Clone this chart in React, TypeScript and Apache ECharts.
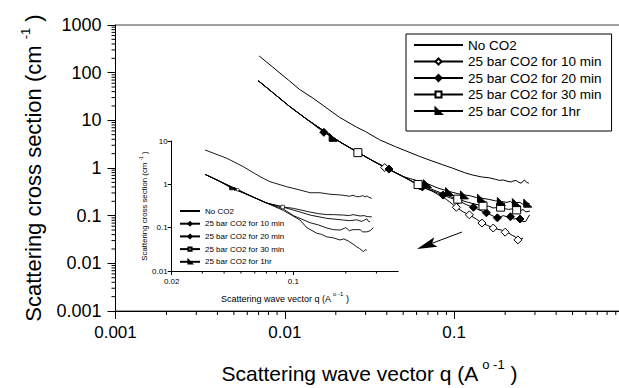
import React, { useEffect, useRef } from 'react';
import * as echarts from 'echarts';

type Pt = [number, number];

const FONT = '"Liberation Sans", Arial, Helvetica, sans-serif';

const seriesNames = [
  'No CO2',
  '25 bar CO2 for 10 min',
  '25 bar CO2 for 20 min',
  '25 bar CO2 for 30 min',
  '25 bar CO2 for 1hr',
];

// axis ranges (log axes)
const mainXRange: Pt = [0.001, 1];
const mainYRange: Pt = [0.001, 1000];
const insetXRange: Pt = [0.02, 0.4];
const insetYRange: Pt = [0.01, 10];

// ---------------- main plot data ----------------
const noCO2Main: Pt[] = [
  [0.00705, 224], [0.0085, 130], [0.0105, 70], [0.01226, 44], [0.0145, 30], [0.017, 20],
  [0.0211, 11.5], [0.0265, 7.2], [0.03, 5.8], [0.0363, 3.9], [0.045, 2.8], [0.0625, 1.75],
  [0.075, 1.38], [0.085, 1.18], [0.098, 0.99], [0.115, 0.8], [0.129, 0.71], [0.145, 0.65],
  [0.162, 0.62], [0.175, 0.58], [0.185, 0.55], [0.195, 0.56], [0.205, 0.53], [0.217, 0.51],
  [0.225, 0.54], [0.233, 0.545], [0.241, 0.5], [0.249, 0.48], [0.255, 0.53], [0.26, 0.56],
  [0.268, 0.5], [0.276, 0.48],
];

const co2HeadMain: Pt[] = [
  [0.00696, 68], [0.0085, 38], [0.0107, 19.4], [0.0135, 10.5], [0.0215, 3.4],
  [0.033, 1.42], [0.05, 0.66],
];

const min10Main: Pt[] = [
  [0.075, 0.32], [0.09, 0.22], [0.113, 0.12], [0.135, 0.085], [0.158, 0.062], [0.18, 0.052],
  [0.19, 0.05], [0.21, 0.043], [0.222, 0.038], [0.23, 0.036], [0.248, 0.032], [0.255, 0.034],
];
const min10MainMarks: Pt[] = [
  [0.0389, 1.02], [0.0626, 0.42], [0.103, 0.15], [0.123, 0.104], [0.146, 0.07], [0.17, 0.055],
  [0.2, 0.045], [0.238, 0.031],
];

const min20Main: Pt[] = [
  [0.075, 0.33], [0.095, 0.235], [0.118, 0.17], [0.142, 0.13], [0.168, 0.1], [0.195, 0.1],
  [0.205, 0.095], [0.225, 0.085], [0.235, 0.088], [0.255, 0.075], [0.265, 0.076], [0.272, 0.09],
  [0.279, 0.104],
];
const min20MainMarks: Pt[] = [
  [0.017, 5.6], [0.0412, 0.95], [0.0649, 0.4], [0.0859, 0.27], [0.105, 0.21], [0.13, 0.15],
  [0.155, 0.115], [0.18, 0.09], [0.215, 0.095], [0.245, 0.085],
];

const min30Main: Pt[] = [
  [0.075, 0.35], [0.09, 0.27], [0.118, 0.195], [0.13, 0.178], [0.16, 0.158], [0.17, 0.145],
  [0.2, 0.14], [0.21, 0.135], [0.222, 0.14], [0.245, 0.125], [0.255, 0.135], [0.265, 0.12],
  [0.28, 0.125],
];
const min30MainMarks: Pt[] = [
  [0.027, 2.1], [0.0612, 0.45], [0.105, 0.222], [0.148, 0.16], [0.188, 0.151], [0.234, 0.132],
];

const hr1Main: Pt[] = [
  [0.08, 0.38], [0.105, 0.29], [0.125, 0.26], [0.135, 0.24], [0.16, 0.22], [0.175, 0.205],
  [0.205, 0.19], [0.215, 0.2], [0.222, 0.18], [0.245, 0.19], [0.252, 0.175], [0.279, 0.18],
];
const hr1MainMarks: Pt[] = [
  [0.0193, 4.4], [0.0695, 0.47], [0.094, 0.32], [0.115, 0.273], [0.145, 0.233], [0.19, 0.198],
  [0.233, 0.188], [0.272, 0.183],
];

// ---------------- inset data ----------------
const noCO2Inset: Pt[] = [
  [0.0311, 6.2], [0.0414, 4.0], [0.0516, 2.55], [0.0644, 1.5], [0.0734, 1.15], [0.0916, 0.88],
  [0.109, 0.74], [0.125, 0.64], [0.142, 0.64], [0.1625, 0.59], [0.185, 0.57], [0.2, 0.55],
  [0.21, 0.53], [0.22, 0.56], [0.23, 0.52], [0.24, 0.52], [0.25, 0.55], [0.258, 0.51],
  [0.264, 0.54], [0.272, 0.5], [0.282, 0.475],
];

const co2HeadInset: Pt[] = [
  [0.0311, 1.7], [0.037, 1.22], [0.058, 0.52], [0.0702, 0.37],
];

const min10Inset: Pt[] = [
  [0.0875, 0.25], [0.1092, 0.15], [0.1194, 0.1], [0.1362, 0.0745], [0.145, 0.07],
  [0.1556, 0.0615], [0.17, 0.058], [0.1854, 0.052], [0.195, 0.055], [0.207, 0.049],
  [0.22, 0.042], [0.2313, 0.036], [0.24, 0.033], [0.2523, 0.028], [0.26, 0.031], [0.264, 0.03],
];
const min10InsetMarks: Pt[] = [[0.048, 0.75]];

const min20Inset: Pt[] = [
  [0.0875, 0.27], [0.1, 0.19], [0.1248, 0.13], [0.14, 0.115], [0.1556, 0.098], [0.17, 0.09],
  [0.1854, 0.088], [0.2, 0.1], [0.21, 0.085], [0.22, 0.09], [0.2416, 0.09], [0.25, 0.08],
  [0.264, 0.08], [0.276, 0.085], [0.2883, 0.1],
];
const min20InsetMarks: Pt[] = [[0.046, 0.78]];

const min30Inset: Pt[] = [
  [0.1092, 0.23], [0.1248, 0.195], [0.1556, 0.164], [0.1937, 0.15], [0.21, 0.145],
  [0.2313, 0.152], [0.245, 0.14], [0.2523, 0.145], [0.264, 0.16], [0.27, 0.14], [0.276, 0.137],
];
const min30InsetMarks: Pt[] = [[0.0868, 0.3]];

const hr1Inset: Pt[] = [
  [0.0875, 0.3], [0.1, 0.279], [0.1248, 0.229], [0.14, 0.21], [0.1556, 0.2], [0.17, 0.2],
  [0.1937, 0.195], [0.21, 0.19], [0.22, 0.2], [0.2416, 0.186], [0.255, 0.19], [0.265, 0.18],
  [0.282, 0.178],
];
const hr1InsetMarks: Pt[] = [[0.044, 0.82]];

// minor tick multipliers for log axes
const minorMultipliers = [2, 3, 4, 5, 6, 7, 8, 9];

const TRI = 'path://M0,0 L0,10 L10,10 Z';

function buildData(line: Pt[], marks: Pt[]) {
  const items: any[] = [
    ...line.map((p) => ({ value: p, symbol: 'none' })),
    ...marks.map((p) => ({ value: p })),
  ];
  items.sort((a, b) => a.value[0] - b.value[0]);
  return items;
}

function minorTicks(range: Pt, kind: number, other: number): number[][] {
  const out: number[][] = [];
  const lo = Math.floor(Math.log10(range[0]));
  const hi = Math.ceil(Math.log10(range[1]));
  for (let d = lo; d < hi; d++) {
    for (const m of minorMultipliers) {
      const v = m * Math.pow(10, d);
      if (v > range[0] * 1.0001 && v < range[1] * 0.9999) {
        out.push(kind === 0 ? [v, other, 0] : [other, v, 1]);
      }
    }
  }
  return out;
}

const fmt = (v: number) => String(+Number(v).toPrecision(6));

export default function App() {
  const ref = useRef<HTMLDivElement>(null);

  useEffect(() => {
    if (!ref.current) return;
    const chart = echarts.init(ref.current, undefined, { renderer: 'svg' });

    const styles = [
      { symbol: 'none', fill: '#000' },
      { symbol: 'diamond', fill: '#fff' },
      { symbol: 'diamond', fill: '#000' },
      { symbol: 'rect', fill: '#fff' },
      { symbol: TRI, fill: '#000' },
    ];

    const mainData = [
      buildData(noCO2Main, []),
      buildData([...co2HeadMain, ...min10Main], min10MainMarks),
      buildData([...co2HeadMain, ...min20Main], min20MainMarks),
      buildData([...co2HeadMain, ...min30Main], min30MainMarks),
      buildData([...co2HeadMain, ...hr1Main], hr1MainMarks),
    ];
    const insetData = [
      buildData(noCO2Inset, []),
      buildData([...co2HeadInset, ...min10Inset], min10InsetMarks),
      buildData([...co2HeadInset, ...min20Inset], min20InsetMarks),
      buildData([...co2HeadInset, ...min30Inset], min30InsetMarks),
      buildData([...co2HeadInset, ...hr1Inset], hr1InsetMarks),
    ];

    const lineSeries = (idx: number, data: any[], grid: number, size: number, width: number) => ({
      type: 'line',
      name: seriesNames[idx],
      xAxisIndex: grid,
      yAxisIndex: grid,
      data,
      symbol: styles[idx].symbol,
      symbolSize: size,
      showSymbol: true,
      showAllSymbol: true,
      silent: true,
      lineStyle: { color: '#000', width },
      itemStyle: {
        color: styles[idx].fill,
        borderColor: '#000',
        borderWidth: grid === 0 ? 1 : 0.7,
        opacity: idx === 0 ? 0 : 1,
      },
      emphasis: { disabled: true },
      z: 3,
    });

    const tickRender = (len: number) => (params: any, api: any) => {
      const kind = api.value(2);
      const pt = api.coord([api.value(0), api.value(1)]);
      if (kind === 0) {
        return {
          type: 'line',
          shape: { x1: pt[0], y1: pt[1], x2: pt[0], y2: pt[1] + len },
          style: { stroke: '#000', lineWidth: 1 },
        };
      }
      return {
        type: 'line',
        shape: { x1: pt[0] - len, y1: pt[1], x2: pt[0], y2: pt[1] },
        style: { stroke: '#000', lineWidth: 1 },
      };
    };

    const axisCommon = {
      type: 'log',
      logBase: 10,
      splitLine: { show: false },
      axisLine: { show: true, onZero: false, lineStyle: { color: '#000', width: 1 } },
    };

    const option: any = {
      animation: false,
      backgroundColor: '#fff',
      textStyle: { fontFamily: FONT, fontWeight: 'normal' },
      grid: [
        {
          left: 115.5, top: 25, width: 508, height: 286,
          outerBoundsMode: 'none', containLabel: false,
          show: true, borderColor: '#444', borderWidth: 1, backgroundColor: 'transparent',
        },
        {
          left: 171.7, top: 141, width: 226.5, height: 130,
          outerBoundsMode: 'none', containLabel: false,
        },
      ],
      xAxis: [
        {
          ...axisCommon,
          gridIndex: 0,
          min: mainXRange[0],
          max: mainXRange[1],
          axisTick: { show: true, length: 8, lineStyle: { color: '#000' } },
          axisLabel: { fontSize: 17, margin: 13, color: '#000', fontFamily: FONT, fontWeight: 'normal', formatter: fmt, showMaxLabel: false },
          name: '{a|Scattering wave vector q (A}{s|o -1}{a| )}',
          nameLocation: 'middle',
          nameGap: 47,
          nameTextStyle: {
            rich: {
              a: { fontSize: 21, fontFamily: FONT, fontWeight: 'normal', color: '#000', lineHeight: 26, verticalAlign: 'bottom' },
              s: { fontSize: 13, fontFamily: FONT, fontWeight: 'normal', color: '#000', verticalAlign: 'top', padding: [0, 0, 0, 4] },
            },
          },
        },
        {
          ...axisCommon,
          gridIndex: 1,
          min: insetXRange[0],
          max: insetXRange[1],
          axisTick: { show: true, length: 4, lineStyle: { color: '#000' } },
          axisLabel: { fontSize: 8, margin: 6, color: '#000', fontFamily: FONT, fontWeight: 'normal', formatter: fmt, showMaxLabel: false },
          name: '{a|Scattering wave vector q (A}{s|o -1}{a| )}',
          nameLocation: 'middle',
          nameGap: 20,
          nameTextStyle: {
            rich: {
              a: { fontSize: 9, fontFamily: FONT, fontWeight: 'normal', color: '#000', lineHeight: 12, verticalAlign: 'bottom' },
              s: { fontSize: 6, fontFamily: FONT, fontWeight: 'normal', color: '#000', verticalAlign: 'top', padding: [0, 0, 0, 2] },
            },
          },
        },
      ],
      yAxis: [
        {
          ...axisCommon,
          gridIndex: 0,
          min: mainYRange[0],
          max: mainYRange[1],
          axisTick: { show: true, length: 8, lineStyle: { color: '#000' } },
          axisLabel: { fontSize: 18, margin: 14, color: '#000', fontFamily: FONT, fontWeight: 'normal', formatter: fmt },
          name: '{a|Scattering cross section (cm }{s|-1}{a| )}',
          nameLocation: 'middle',
          nameGap: 71,
          nameTextStyle: {
            rich: {
              a: { fontSize: 22, fontFamily: FONT, fontWeight: 'normal', color: '#000', lineHeight: 26, verticalAlign: 'bottom' },
              s: { fontSize: 13, fontFamily: FONT, fontWeight: 'normal', color: '#000', verticalAlign: 'top' },
            },
          },
        },
        {
          ...axisCommon,
          gridIndex: 1,
          min: insetYRange[0],
          max: insetYRange[1],
          axisTick: { show: true, length: 4, lineStyle: { color: '#000' } },
          axisLabel: { fontSize: 8, margin: 4, color: '#000', fontFamily: FONT, fontWeight: 'normal', formatter: fmt },
          name: '{a|Scattering cross section (cm }{s|-1}{a| )}',
          nameLocation: 'middle',
          nameGap: 23,
          nameTextStyle: {
            rich: {
              a: { fontSize: 7.8, fontFamily: FONT, fontWeight: 'normal', color: '#000', lineHeight: 10, verticalAlign: 'bottom' },
              s: { fontSize: 5, fontFamily: FONT, fontWeight: 'normal', color: '#000', verticalAlign: 'top' },
            },
          },
        },
      ],
      legend: [
        {
          data: seriesNames,
          orient: 'vertical',
          left: 406,
          top: 34,
          padding: [4, 10, 13, 7],
          itemWidth: 49,
          itemHeight: 7.5,
          itemGap: 2.5,
          borderColor: '#000',
          borderWidth: 1,
          borderRadius: 0,
          backgroundColor: '#fff',
          selectedMode: false,
          textStyle: { fontSize: 13.5, fontFamily: FONT, fontWeight: 'normal', color: '#000' },
        },
        {
          data: seriesNames,
          orient: 'vertical',
          left: 179,
          top: 207,
          padding: 0,
          itemWidth: 20,
          itemHeight: 4,
          itemGap: 4.7,
          selectedMode: false,
          textStyle: { fontSize: 8, fontFamily: FONT, fontWeight: 'normal', color: '#000' },
        },
      ],
      series: [
        ...mainData.map((d, i) => lineSeries(i, d, 0, 8, 1)),
        ...insetData.map((d, i) => lineSeries(i, d, 1, 3.5, 0.9)),
        {
          type: 'custom',
          xAxisIndex: 0,
          yAxisIndex: 0,
          silent: true,
          clip: false,
          encode: { x: 0, y: 1 },
          data: [
            ...minorTicks(mainXRange, 0, mainYRange[0]),
            ...minorTicks(mainYRange, 1, mainXRange[0]),
          ],
          renderItem: tickRender(4),
        },
        {
          type: 'custom',
          xAxisIndex: 1,
          yAxisIndex: 1,
          silent: true,
          clip: false,
          encode: { x: 0, y: 1 },
          data: [...minorTicks(insetXRange, 0, insetYRange[0])],
          renderItem: tickRender(2.5),
        },
      ],
      graphic: [
        {
          type: 'line',
          shape: { x1: 462, y1: 232, x2: 432, y2: 243.3 },
          style: { stroke: '#000', lineWidth: 1 },
        },
        {
          type: 'polygon',
          shape: { points: [[417, 249], [437.5, 246.8], [432, 243.5], [434.2, 237.3]] },
          style: { fill: '#000' },
        },
      ],
    };

    chart.setOption(option);
    return () => chart.dispose();
  }, []);

  return (
    <div
      ref={ref}
      style={{ position: 'fixed', left: 0, top: 0, width: 619, height: 388 }}
    />
  );
}
